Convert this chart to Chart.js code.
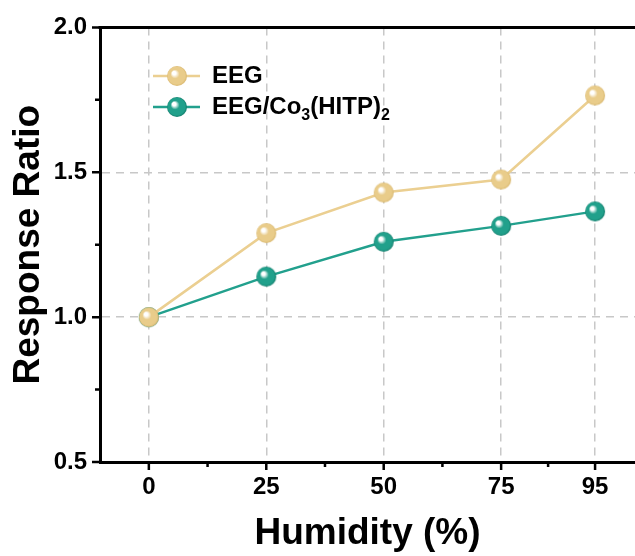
<!DOCTYPE html>
<html>
<head>
<meta charset="utf-8">
<script src="https://cdn.jsdelivr.net/npm/chart.js@4/dist/chart.umd.min.js"></script>
<style>
  html, body { margin: 0; padding: 0; background: #fff; overflow: hidden; }
  #wrap { width: 635px; height: 556px; position: relative; }
</style>
</head>
<body>
<div id="wrap"><canvas id="humidity-chart"></canvas></div>
<script>
// humidity levels (%) and response ratios
const humidity = [0, 25, 50, 75, 95];
const eegRatio = [1.0, 1.29, 1.43, 1.475, 1.765];
const eegCoRatio = [1.0, 1.14, 1.26, 1.315, 1.365];

const xTicks = [0, 25, 50, 75, 95];
const xMinorTicks = [12.5, 37.5, 62.5, 85];
const yTicks = [0.5, 1.0, 1.5, 2.0];
const yMinorTicks = [0.75, 1.25, 1.75];

const seriesNames = ['EEG', 'EEG/Co3(HITP)2'];
const colors = {
    eeg: { line: '#ebcf91', base: '#e9cc8a', edge: '#d9b870' },
    co: { line: '#22a08d', base: '#21a08b', edge: '#137c6b' }
};

const FONT = 'Arial, "Liberation Sans", sans-serif';

// shiny ball marker drawn on its own small canvas
function makeBall(c, r) {
    const size = r * 2 + 2;
    const cv = document.createElement('canvas');
    cv.width = size;
    cv.height = size;
    const g = cv.getContext('2d');
    const cx = size / 2, cy = size / 2;
    const grad = g.createRadialGradient(cx - r * 0.35, cy - r * 0.35, 0, cx, cy, r);
    grad.addColorStop(0, '#ffffff');
    grad.addColorStop(0.18, '#ffffff');
    grad.addColorStop(0.45, c.base);
    grad.addColorStop(0.85, c.base);
    grad.addColorStop(1, c.edge);
    g.fillStyle = grad;
    g.beginPath();
    g.arc(cx, cy, r, 0, Math.PI * 2);
    g.fill();
    return cv;
}

const eegBall = makeBall(colors.eeg, 10);
const coBall = makeBall(colors.co, 10);

const toPoints = (ys) => humidity.map((h, i) => ({ x: h, y: ys[i] }));

// top frame line, minor/major tick marks, legend with subscripts
const framePlugin = {
    id: 'frame',
    afterDraw(chart) {
        const { ctx, chartArea, scales } = chart;
        const x = scales.x, y = scales.y;
        ctx.save();
        ctx.strokeStyle = '#000';
        ctx.lineWidth = 3;
        ctx.beginPath();
        ctx.moveTo(chartArea.left - 1.5, chartArea.top);
        ctx.lineTo(chartArea.right, chartArea.top);
        ctx.stroke();

        ctx.lineWidth = 2.5;
        ctx.beginPath();
        xTicks.forEach(v => {
            const px = x.getPixelForValue(v);
            ctx.moveTo(px, chartArea.bottom);
            ctx.lineTo(px, chartArea.bottom + 8);
        });
        xMinorTicks.forEach(v => {
            const px = x.getPixelForValue(v);
            ctx.moveTo(px, chartArea.bottom);
            ctx.lineTo(px, chartArea.bottom + 5);
        });
        yTicks.forEach(v => {
            const py = y.getPixelForValue(v);
            ctx.moveTo(chartArea.left, py);
            ctx.lineTo(chartArea.left - 8, py);
        });
        yMinorTicks.forEach(v => {
            const py = y.getPixelForValue(v);
            ctx.moveTo(chartArea.left, py);
            ctx.lineTo(chartArea.left - 5, py);
        });
        ctx.stroke();

        // legend
        const rows = [
            { y: 76, c: colors.eeg, ball: eegBall, parts: [['EEG', 0]] },
            { y: 107, c: colors.co, ball: coBall, parts: [['EEG/Co', 0], ['3', 1], ['(HITP)', 0], ['2', 1]] }
        ];
        rows.forEach(r => {
            ctx.strokeStyle = r.c.line;
            ctx.lineWidth = 2.5;
            ctx.beginPath();
            ctx.moveTo(153, r.y);
            ctx.lineTo(200, r.y);
            ctx.stroke();
            ctx.drawImage(r.ball, 177 - r.ball.width / 2, r.y - r.ball.height / 2);
            let tx = 212;
            ctx.fillStyle = '#000';
            ctx.textBaseline = 'middle';
            ctx.textAlign = 'left';
            r.parts.forEach(([t, sub]) => {
                ctx.font = sub ? 'bold 16px ' + FONT : 'bold 24px ' + FONT;
                ctx.fillText(t, tx, sub ? r.y + 9 : r.y);
                tx += ctx.measureText(t).width;
            });
        });
        ctx.restore();
    }
};

new Chart(document.getElementById('humidity-chart'), {
    type: 'line',
    data: {
        datasets: [
            {
                label: seriesNames[0],
                data: toPoints(eegRatio),
                borderColor: colors.eeg.line,
                borderWidth: 2.5,
                pointStyle: eegBall,
                tension: 0
            },
            {
                label: seriesNames[1],
                data: toPoints(eegCoRatio),
                borderColor: colors.co.line,
                borderWidth: 2.5,
                pointStyle: coBall,
                tension: 0
            }
        ]
    },
    options: {
        responsive: true,
        maintainAspectRatio: false,
        animation: false,
        layout: { autoPadding: false, padding: { top: 25, right: 0, left: 0, bottom: 0 } },
        plugins: {
            legend: { display: false },
            tooltip: { enabled: false }
        },
        scales: {
            x: {
                type: 'linear',
                min: -10.4,
                max: 103.5,
                afterBuildTicks: (scale) => { scale.ticks = xTicks.map(v => ({ value: v })); },
                afterFit: (scale) => { scale.height = 94; },
                ticks: {
                    color: '#000',
                    padding: 11,
                    maxRotation: 0,
                    font: { family: FONT, size: 24, weight: 'bold' }
                },
                grid: { color: '#c8c8c8', lineWidth: 1.5, drawTicks: false },
                border: { display: true, color: '#000', width: 3, dash: [8, 6] },
                title: {
                    display: true,
                    text: 'Humidity (%)',
                    color: '#000',
                    padding: { top: 0, bottom: 0 },
                    font: { family: FONT, size: 37, weight: 'bold' }
                }
            },
            y: {
                min: 0.5,
                max: 2.0,
                afterBuildTicks: (scale) => { scale.ticks = yTicks.map(v => ({ value: v })); },
                afterFit: (scale) => { scale.width = 100; },
                ticks: {
                    color: '#000',
                    padding: 13,
                    callback: (v) => v.toFixed(1),
                    font: { family: FONT, size: 24, weight: 'bold' }
                },
                grid: {
                    color: (ctx) => (ctx.tick && ctx.tick.value > 0.5 && ctx.tick.value < 2.0) ? '#c8c8c8' : 'rgba(0,0,0,0)',
                    lineWidth: 1.5,
                    drawTicks: false
                },
                border: { display: true, color: '#000', width: 3, dash: [8, 6] },
                title: {
                    display: true,
                    text: 'Response Ratio',
                    color: '#000',
                    padding: { top: 7, bottom: 0 },
                    font: { family: FONT, size: 37, weight: 'bold' }
                }
            }
        }
    },
    plugins: [framePlugin]
});
</script>
</body>
</html>
